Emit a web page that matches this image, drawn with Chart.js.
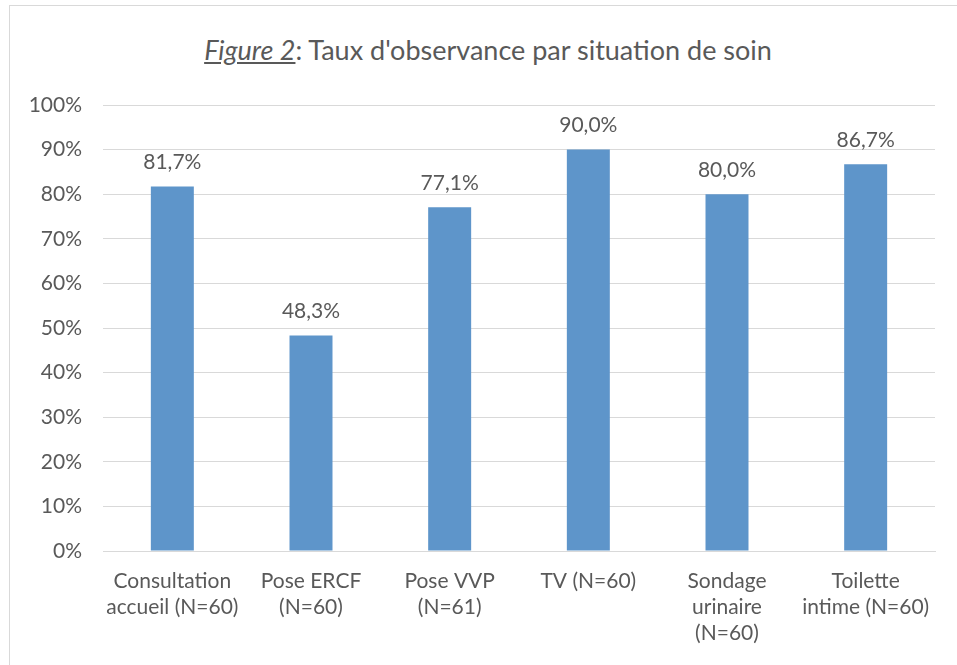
<!DOCTYPE html>
<html>
<head>
<meta charset="utf-8">
<script src="https://cdn.jsdelivr.net/npm/chart.js@4/dist/chart.umd.min.js"></script>
<style>
    html, body { margin: 0; padding: 0; background: #fff; }
    #wrap { position: relative; width: 957px; height: 665px; overflow: hidden; }
    #frame { position: absolute; left: 9px; top: 5px; width: 1000px; height: 700px; border: 1px solid #d9d9d9; box-sizing: border-box; }
    #title { position: absolute; left: 0; top: 33px; width: 976px; text-align: center; font-family: Lato, sans-serif; font-size: 27px; color: #595959; }
    #title em { text-decoration: underline; }
    canvas { position: absolute; left: 0; top: 0; }
</style>
</head>
<body>
<div id="wrap">
    <div id="frame"></div>
    <div id="title"><em>Figure 2</em>: Taux d'observance par situation de soin</div>
    <canvas id="barChart" width="957" height="665"></canvas>
</div>
<script>
    // categories and values
    const categories = [
        ['Consultation', 'accueil (N=60)'],
        ['Pose ERCF', '(N=60)'],
        ['Pose VVP', '(N=61)'],
        'TV (N=60)',
        ['Sondage', 'urinaire', '(N=60)'],
        ['Toilette', 'intime (N=60)']
    ];
    const rates = [81.7, 48.3, 77.1, 90.0, 80.0, 86.7];
    const yTicks = [0, 10, 20, 30, 40, 50, 60, 70, 80, 90, 100];

    const textColor = '#595959';
    const fontFamily = 'Lato, sans-serif';

    // value labels over each bar (French decimal comma)
    const valueLabels = {
        id: 'valueLabels',
        afterDatasetsDraw(chart) {
            const ctx = chart.ctx;
            const meta = chart.getDatasetMeta(0);
            ctx.save();
            ctx.font = '21px ' + fontFamily;
            ctx.fillStyle = textColor;
            ctx.textAlign = 'center';
            ctx.textBaseline = 'middle';
            meta.data.forEach(function(bar, i) {
                const txt = rates[i].toFixed(1).replace('.', ',') + '%';
                ctx.fillText(txt, bar.x, bar.y - 24);
            });
            ctx.restore();
        }
    };

    new Chart(document.getElementById('barChart'), {
        type: 'bar',
        data: {
            labels: categories,
            datasets: [{
                data: rates,
                backgroundColor: '#5E95CA',
                borderWidth: 0,
                categoryPercentage: 1,
                barPercentage: 0.31
            }]
        },
        options: {
            responsive: false,
            animation: false,
            layout: { padding: { top: 105, right: 22, bottom: 0, left: 0 } },
            plugins: {
                legend: { display: false },
                tooltip: { enabled: false }
            },
            scales: {
                y: {
                    min: 0,
                    max: 100,
                    afterBuildTicks(scale) { scale.ticks = yTicks.map(v => ({ value: v })); },
                    afterFit(scale) { scale.width = 103; },
                    grid: { color: '#d9d9d9', lineWidth: 1, drawTicks: false },
                    border: { display: false },
                    ticks: {
                        padding: 21,
                        color: textColor,
                        font: { family: fontFamily, size: 21 },
                        callback: v => v + '%'
                    }
                },
                x: {
                    afterFit(scale) { scale.height = 114; },
                    grid: { display: false, drawTicks: false },
                    border: { display: true, color: '#d9d9d9', width: 1 },
                    ticks: {
                        padding: 17,
                        maxRotation: 0,
                        autoSkip: false,
                        color: textColor,
                        font: { family: fontFamily, size: 21, lineHeight: 1.24 }
                    }
                }
            }
        },
        plugins: [valueLabels]
    });
</script>
</body>
</html>
